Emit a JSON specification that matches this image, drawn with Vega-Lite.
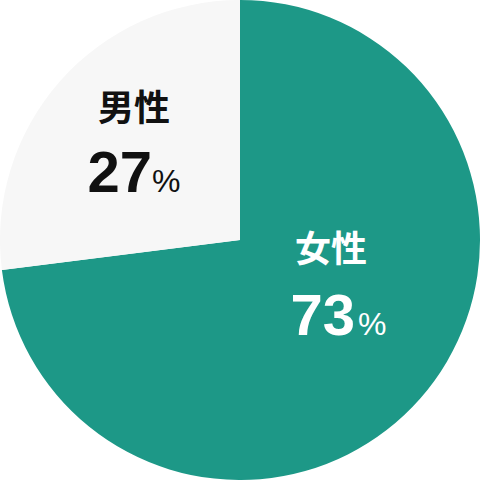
{
  "$schema": "https://vega.github.io/schema/vega-lite/v6.json",
  "width": 480,
  "height": 480,
  "autosize": {"type": "fit", "contains": "padding"},
  "padding": 0,
  "background": "white",
  "view": {"stroke": null},
  "data": {
    "values": [
      {"gender": "女性", "value": 73, "label": "73"},
      {"gender": "男性", "value": 27, "label": "27"}
    ]
  },
  "encoding": {
    "theta": {"field": "value", "type": "quantitative", "stack": true},
    "order": {"field": "gender", "sort": "ascending"}
  },
  "layer": [
    {
      "mark": {"type": "arc", "outerRadius": 240},
      "encoding": {
        "color": {
          "field": "gender",
          "type": "nominal",
          "scale": {"domain": ["女性", "男性"], "range": ["#1d9887", "#f7f7f7"]},
          "legend": null
        }
      }
    },
    {
      "mark": {"type": "text", "radius": 120, "dx": 1, "dy": -68, "align": "center", "baseline": "middle",
               "font": "Noto Sans CJK JP", "fontSize": 36, "fontWeight": "bold", "fill": "white"},
      "encoding": {"text": {"condition": {"test": "datum.gender === '女性'", "field": "gender"}, "value": ""}}
    },
    {
      "mark": {"type": "text", "radius": 120, "dx": 25, "dy": 15.6, "align": "right", "baseline": "alphabetic",
               "font": "Liberation Sans", "fontSize": 58, "fontWeight": "bold", "fill": "white"},
      "encoding": {"text": {"condition": {"test": "datum.gender === '女性'", "field": "label"}, "value": ""}}
    },
    {
      "mark": {"type": "text", "radius": 120, "dx": 28, "dy": 15.6, "align": "left", "baseline": "alphabetic",
               "font": "Liberation Sans", "fontSize": 32, "fill": "white"},
      "encoding": {"text": {"condition": {"test": "datum.gender === '女性'", "value": "%"}, "value": ""}}
    },
    {
      "mark": {"type": "text", "radius": 120, "dx": -16, "dy": -50.6, "align": "center", "baseline": "middle",
               "font": "Noto Sans CJK JP", "fontSize": 36, "fontWeight": "bold", "fill": "#111111"},
      "encoding": {"text": {"condition": {"test": "datum.gender === '男性'", "field": "gender"}, "value": ""}}
    },
    {
      "mark": {"type": "text", "radius": 120, "dx": 2, "dy": 31.4, "align": "right", "baseline": "alphabetic",
               "font": "Liberation Sans", "fontSize": 58, "fontWeight": "bold", "fill": "#111111"},
      "encoding": {"text": {"condition": {"test": "datum.gender === '男性'", "field": "label"}, "value": ""}}
    },
    {
      "mark": {"type": "text", "radius": 120, "dx": 2, "dy": 31.4, "align": "left", "baseline": "alphabetic",
               "font": "Liberation Sans", "fontSize": 32, "fill": "#111111"},
      "encoding": {"text": {"condition": {"test": "datum.gender === '男性'", "value": "%"}, "value": ""}}
    }
  ]
}
